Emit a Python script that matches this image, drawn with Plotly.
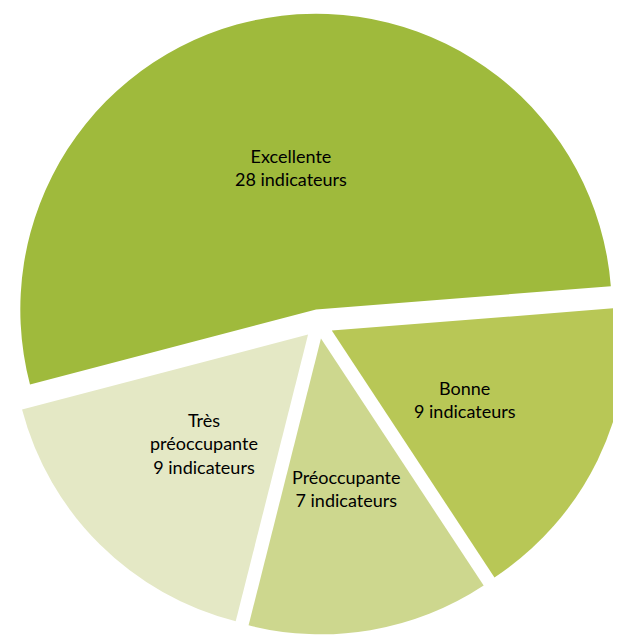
import math
import plotly.graph_objects as go

# Données
categories = ["Excellente", "Bonne", "Préoccupante", "Très préoccupante"]
display_labels = ["Excellente", "Bonne", "Préoccupante", "Très<br>préoccupante"]
nb_indicateurs = [28, 9, 7, 9]
colors = ["#9FBA3C", "#B8C756", "#CDD78E", "#E4E8C5"]

texts = [f"{lab}<br>{n} indicateurs" for lab, n in zip(display_labels, nb_indicateurs)]

W, H = 621, 643
rotation = -104.7
pull = 0.05
dom_y = [0.017, 1]

fig = go.Figure(go.Pie(
    labels=categories,
    values=nb_indicateurs,
    textinfo="none",
    sort=False,
    direction="clockwise",
    rotation=rotation,
    pull=[pull] * len(categories),
    marker=dict(colors=colors, line=dict(width=0)),
    hoverinfo="label+value",
    domain=dict(x=[0, 1], y=dom_y),
))

# Étiquettes placées à mi-rayon sur la bissectrice de chaque part (comme Excel)
box_h = H * (dom_y[1] - dom_y[0])
r = min(W, box_h) / (2 + 2 * pull)
cx, cy = W / 2, H - box_h / 2
total = sum(nb_indicateurs)
angle = rotation
for txt, n in zip(texts, nb_indicateurs):
    mid = math.radians(angle + 360 * n / total / 2)
    dist = r * (pull + 0.5)
    px = cx + dist * math.sin(mid)
    py = cy - dist * math.cos(mid)
    fig.add_annotation(
        x=px / W, y=1 - py / H, xref="paper", yref="paper",
        text=txt, showarrow=False, xanchor="center", yanchor="middle",
        yshift=7,
        font=dict(family="Lato", size=18, color="#000000"),
    )
    angle += 360 * n / total

fig.update_layout(
    width=W,
    height=H,
    margin=dict(l=0, r=0, t=0, b=0),
    showlegend=False,
    paper_bgcolor="white",
)

fig.write_html("out.html")
